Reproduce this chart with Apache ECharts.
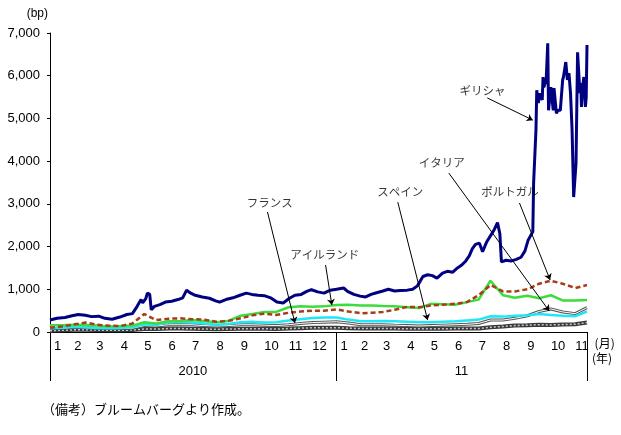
<!DOCTYPE html>
<html><head><meta charset="utf-8">
<script src="https://cdn.jsdelivr.net/npm/echarts@6/dist/echarts.min.js"></script>
<style>html,body{margin:0;padding:0;background:#fff}#c{width:621px;height:435px}</style>
</head><body><div id="c"></div>
<script>
// ---- data ----
const greeceDates = ['2010-01-01','2010-01-10','2010-01-20','2010-01-29','2010-02-06','2010-02-15','2010-02-23','2010-03-04','2010-03-12','2010-03-21','2010-03-31','2010-04-09','2010-04-16','2010-04-22','2010-04-27','2010-04-29','2010-05-03','2010-05-05','2010-05-08','2010-05-10','2010-05-14','2010-05-21','2010-05-28','2010-06-05','2010-06-13','2010-06-19','2010-06-24','2010-06-28','2010-07-05','2010-07-14','2010-07-23','2010-07-31','2010-08-05','2010-08-13','2010-08-22','2010-08-31','2010-09-08','2010-09-15','2010-09-23','2010-10-01','2010-10-09','2010-10-17','2010-10-25','2010-11-02','2010-11-09','2010-11-17','2010-11-24','2010-11-30','2010-12-08','2010-12-16','2010-12-24','2011-01-01','2011-01-10','2011-01-15','2011-01-23','2011-01-31','2011-02-07','2011-02-14','2011-02-21','2011-03-01','2011-03-08','2011-03-16','2011-03-23','2011-04-01','2011-04-08','2011-04-14','2011-04-21','2011-04-27','2011-05-03','2011-05-09','2011-05-16','2011-05-22','2011-05-29','2011-06-04','2011-06-09','2011-06-14','2011-06-19','2011-06-23','2011-06-27','2011-07-02','2011-07-06','2011-07-11','2011-07-16','2011-07-21','2011-07-25','2011-07-28','2011-07-30','2011-08-05','2011-08-11','2011-08-18','2011-08-24','2011-08-29','2011-09-02','2011-09-05','2011-09-08','2011-09-09','2011-09-11','2011-09-12','2011-09-13','2011-09-15','2011-09-17','2011-09-20','2011-09-21','2011-09-22','2011-09-25','2011-09-27','2011-09-28','2011-10-01','2011-10-04','2011-10-05','2011-10-08','2011-10-10','2011-10-13','2011-10-16','2011-10-17','2011-10-20','2011-10-22','2011-10-24','2011-10-26','2011-10-28','2011-10-30','2011-10-31','2011-11-02','2011-11-04','2011-11-07','2011-11-08','2011-11-09','2011-11-10','2011-11-12','2011-11-14','2011-11-15','2011-11-16'];
const greeceValues = [280,320,340,380,410,390,360,370,320,300,350,410,430,600,760,680,780,910,880,520,600,640,700,720,760,800,980,920,860,820,790,730,700,760,800,860,910,880,860,850,800,700,680,790,860,880,950,990,940,910,980,1000,1030,950,880,840,820,880,920,960,1000,960,970,980,1000,1080,1300,1340,1320,1260,1380,1420,1400,1500,1560,1650,1780,1950,2050,2080,1880,2100,2250,2400,2560,2300,1640,1680,1660,1700,1750,1900,2150,2250,2350,3490,3510,4730,5660,5360,5590,5430,5970,5730,5900,6760,5190,5730,5190,5710,5120,5190,5190,5900,5970,6320,5900,6060,5590,4730,3160,3140,3950,6550,5590,5830,5270,5660,5970,5270,5500,6720];

// semi-monthly observations (1st and 16th of each month, 2010-01 .. 2011-11)
const portugalValues = [100,130,180,220,170,150,140,200,420,280,310,320,300,290,240,260,320,390,430,400,450,480,500,500,530,480,440,450,470,520,590,580,620,640,660,700,860,1100,950,950,1000,1130,1200,1130,1030,1100];
const irelandValues  = [160,160,170,165,150,130,140,150,230,200,250,260,280,260,230,260,380,420,470,470,580,600,590,600,630,640,620,620,610,600,580,560,660,650,640,700,760,1200,860,800,850,790,860,740,740,750];
const spainValues    = [90,100,120,110,95,90,95,110,180,170,230,240,220,200,170,190,230,240,220,230,270,300,330,340,340,290,250,250,260,250,240,230,230,240,250,270,290,370,360,380,390,420,400,380,370,480];
const italyValues    = [80,90,110,100,90,80,80,90,150,140,170,170,170,150,140,150,170,170,160,150,170,200,220,230,240,210,170,170,170,160,150,140,150,160,170,180,200,280,280,320,380,480,540,470,430,570];
const franceValues   = [30,40,50,50,45,40,40,45,70,70,80,80,75,70,65,70,75,75,75,70,80,90,100,100,100,90,80,80,80,80,75,75,75,75,80,80,80,110,130,150,160,170,165,175,180,220];

const monthLabels = ['1','2','3','4','5','6','7','8','9','10','11','12','1','2','3','4','5','6','7','8','9','10','11'];
const monthLabelDates = ['2010-01-06','2010-02-01','2010-03-01','2010-04-01','2010-05-01','2010-06-01','2010-07-01','2010-08-01','2010-09-01','2010-10-01','2010-11-01','2010-12-01','2011-01-06','2011-02-01','2011-03-01','2011-04-01','2011-05-01','2011-06-01','2011-07-01','2011-08-01','2011-09-01','2011-10-01','2011-11-01'];
const yearLabels = ['2010','11'];
const yearLabelDates = ['2010-07-02','2011-06-09'];
const yearDividerDates = ['2010-01-01','2011-01-01','2011-11-16'];

const annotationNames = ['ギリシャ','イタリア','ポルトガル','スペイン','フランス','アイルランド'];
const annotationTextAt = [['2011-07-06',5660],['2011-05-15',3955],['2011-08-10',3280],['2011-03-23',3280],['2010-10-08',3040],['2010-12-17',1800]];
const annotationFrom = [['2011-07-12',5480],['2011-05-24',3720],['2011-08-22',3020],['2011-03-20',3040],['2010-10-05',2810],['2010-12-18',1570]];
const annotationTo = [['2011-09-08',4960],['2011-09-29',490],['2011-09-30',1220],['2011-04-27',280],['2010-11-09',210],['2010-12-26',630]];

// ---- helpers ----
function day(s){const p=s.split('-').map(Number);return (Date.UTC(p[0],p[1]-1,p[2])-Date.UTC(2010,0,1))/864e5;}
const halfMonthDates=[];
for(let k=0;k<23;k++){const y=2010+Math.floor(k/12),m=String(k%12+1).padStart(2,'0');halfMonthDates.push(y+'-'+m+'-01',y+'-'+m+'-16');}
const pairs=(dates,vals)=>vals.map((v,i)=>[day(dates[i]),v]);
const monthMap={};monthLabelDates.forEach((d,i)=>monthMap[day(d)]=monthLabels[i]);
const yearMap={};yearLabelDates.forEach((d,i)=>yearMap[day(d)]=yearLabels[i]);
const xMax=day(yearDividerDates[2]);

const NUMFONT="'Liberation Sans Narrow','Liberation Sans',sans-serif";
const JPFONT="'Noto Sans CJK JP',sans-serif";

const lineBase={type:'line',showSymbol:false,symbol:'none',animation:false,silent:true};

const chart=echarts.init(document.getElementById('c'),null,{renderer:'canvas'});
chart.setOption({
  animation:false,
  backgroundColor:'#fff',
  title:{text:'（備考）ブルームバーグより作成。',left:37,top:398,textStyle:{fontSize:13,fontWeight:'normal',color:'#000',fontFamily:JPFONT}},
  grid:{left:50,right:34,top:33,bottom:103,containLabel:false},
  xAxis:[
    {type:'value',min:0,max:xMax,position:'bottom',
     name:'(月)',nameLocation:'end',nameGap:5,
     nameTextStyle:{color:'#000',fontSize:12,fontFamily:JPFONT,verticalAlign:'top',padding:[5,0,0,0]},
     axisLine:{show:true,lineStyle:{color:'#000',width:1}},
     axisTick:{show:false},splitLine:{show:false},
     axisLabel:{customValues:monthLabelDates.map(day),formatter:v=>monthMap[v],align:'left',margin:8,color:'#000',fontSize:13,fontFamily:NUMFONT}},
    {type:'value',min:0,max:xMax,position:'bottom',offset:0,
     name:'(年)',nameLocation:'end',nameGap:5,
     nameTextStyle:{color:'#000',fontSize:12,fontFamily:JPFONT,verticalAlign:'top',padding:[20,0,0,0]},
     axisLine:{show:false},splitLine:{show:false},
     axisTick:{show:true,customValues:yearDividerDates.map(day),length:49,inside:false,lineStyle:{color:'#000',width:1}},
     axisLabel:{customValues:yearLabelDates.map(day),formatter:v=>yearMap[v],margin:33,color:'#000',fontSize:13,fontFamily:NUMFONT}}
  ],
  yAxis:{type:'value',min:0,max:7000,interval:1000,
    name:'(bp)',nameLocation:'end',nameGap:13,
    nameTextStyle:{color:'#000',fontSize:12,fontFamily:NUMFONT,align:'right',padding:[0,2,0,0]},
    axisLine:{show:true,lineStyle:{color:'#000',width:1}},
    axisTick:{show:true,inside:false,length:3,lineStyle:{color:'#000'}},
    splitLine:{show:false},
    axisLabel:{margin:10,color:'#000',fontSize:13,fontFamily:NUMFONT,formatter:v=>v.toLocaleString('en-US')}},
  series:[
    Object.assign({},lineBase,{name:'フランス',data:pairs(halfMonthDates,franceValues),lineStyle:{color:'#3a3a3a',width:4},z:2}),
    Object.assign({},lineBase,{name:'フランス2',data:pairs(halfMonthDates,franceValues),lineStyle:{color:'#c8c8c8',width:1.5,type:[2,2]},z:3}),
    Object.assign({},lineBase,{name:'イタリア',data:pairs(halfMonthDates,italyValues),lineStyle:{color:'#555',width:3},z:4}),
    Object.assign({},lineBase,{name:'イタリア2',data:pairs(halfMonthDates,italyValues),lineStyle:{color:'#fff',width:1},z:5}),
    Object.assign({},lineBase,{name:'スペイン',data:pairs(halfMonthDates,spainValues),lineStyle:{color:'#1ee8f5',width:2.5},z:6}),
    Object.assign({},lineBase,{name:'アイルランド',data:pairs(halfMonthDates,irelandValues),lineStyle:{color:'#3ddc3d',width:2.5},z:7}),
    Object.assign({},lineBase,{name:'ポルトガル',data:pairs(halfMonthDates,portugalValues),lineStyle:{color:'#a83c18',width:2.5,type:[5,3]},z:8}),
    Object.assign({},lineBase,{name:'ギリシャ',data:pairs(greeceDates,greeceValues),lineStyle:{color:'#000080',width:3},z:9}),
    {type:'lines',coordinateSystem:'cartesian2d',silent:true,animation:false,z:10,
     symbol:['none','arrow'],symbolSize:6,
     lineStyle:{color:'#000',width:1,opacity:1,curveness:0},
     data:annotationFrom.map((f,i)=>({coords:[[day(f[0]),f[1]],[day(annotationTo[i][0]),annotationTo[i][1]]]}))},
    {type:'scatter',silent:true,animation:false,z:11,symbolSize:1,itemStyle:{color:'rgba(0,0,0,0)'},
     data:annotationTextAt.map((p,i)=>[day(p[0]),p[1],annotationNames[i]]),
     label:{show:true,position:'inside',color:'#000',fontSize:11.5,fontFamily:JPFONT,formatter:p=>p.data[2]}}
  ]
});
</script></body></html>
